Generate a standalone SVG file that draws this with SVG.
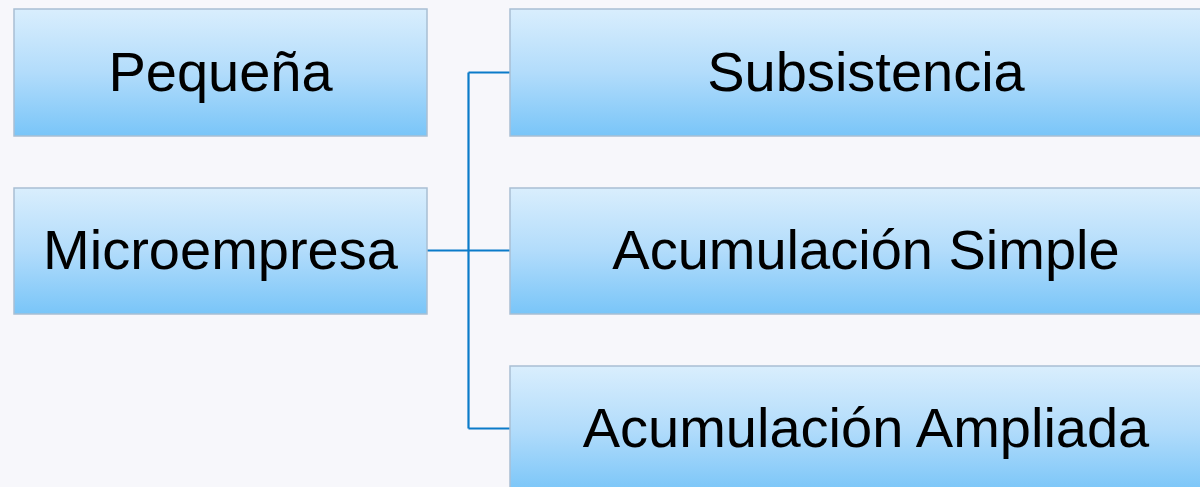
<svg xmlns="http://www.w3.org/2000/svg" width="1200" height="487" viewBox="0 0 1200 487">
<defs>
<linearGradient id="g" x1="0" y1="0" x2="0" y2="1">
<stop offset="0" stop-color="#d9eefd"/>
<stop offset="0.5" stop-color="#b2dcfb"/>
<stop offset="1" stop-color="#79c5f8"/>
</linearGradient>
<style>
.box{fill:url(#g);stroke:#a9bfd3;stroke-width:1.5}
.t{font-family:"Liberation Sans",Arial,sans-serif;font-size:56px;fill:#000;text-anchor:middle}
.c{fill:none;stroke:#0b7bc9;stroke-width:2.2}
</style>
</defs>
<rect width="1200" height="487" fill="#f7f7fb"/>
<g id="connectors">
<path class="c" d="M468.5 72.5V428.5M468.5 72.5H510M468.5 428.5H510M427 250.5H510"/>
</g>
<g id="pequena"><rect class="box" x="14" y="9" width="413" height="127"/><text class="t" x="220.5" y="91">Pequeña</text></g>
<g id="microempresa"><rect class="box" x="14" y="188" width="413" height="126"/><text class="t" x="220.5" y="269">Microempresa</text></g>
<g id="subsistencia"><rect class="box" x="510" y="9" width="712" height="127"/><text class="t" x="866" y="91">Subsistencia</text></g>
<g id="simple"><rect class="box" x="510" y="188" width="712" height="126"/><text class="t" x="866" y="269">Acumulación Simple</text></g>
<g id="ampliada"><rect class="box" x="510" y="366" width="712" height="127"/><text class="t" x="866" y="447">Acumulación Ampliada</text></g>
</svg>
